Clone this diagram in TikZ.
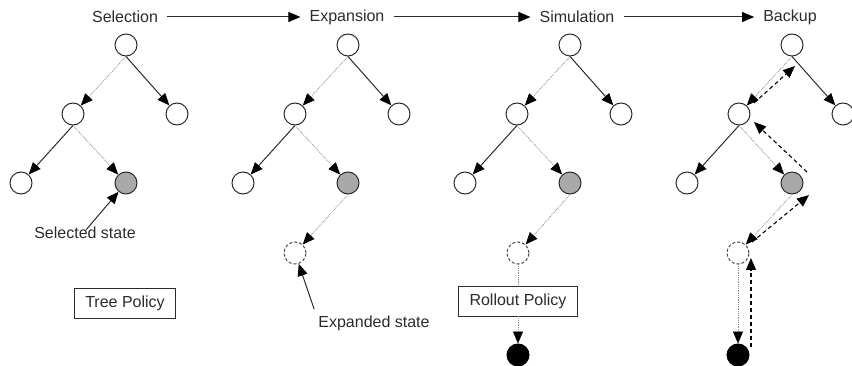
\documentclass[tikz,border=0pt]{standalone}
\usepackage{fontspec}
\setmainfont{Liberation Sans}
\usetikzlibrary{arrows.meta, calc}
\definecolor{mctsink}{HTML}{2B2B2B}
\definecolor{mctsgray}{HTML}{A9A9A9}
\definecolor{mctsdots}{HTML}{8A8A8A}

\begin{document}
\begin{tikzpicture}[x=1pt, y=-1pt,
    state/.style={circle, draw=mctsink, line width=1pt, minimum size=22pt, inner sep=0pt, fill=white},
    picked/.style={state, fill=mctsgray},
    fresh/.style={state, dash pattern=on 3pt off 2pt, draw=mctsink!85},
    terminal/.style={state, fill=black, draw=black},
    title/.style={font=\fontsize{16}{19}\selectfont, text=mctsink, inner xsep=9pt},
    note/.style={font=\fontsize{16}{19}\selectfont, text=mctsink, inner sep=1pt},
    policy/.style={draw=mctsink, line width=0.9pt, minimum height=30pt, inner xsep=11pt,
                   font=\fontsize{16}{19}\selectfont, text=mctsink},
    head/.style={-{Triangle[length=12pt, width=10pt, color=black]}},
    strong/.style={head, line width=1pt, draw=mctsink},
    weak/.style={head, densely dotted, line width=0.8pt, draw=mctsdots},
    plain/.style={densely dotted, line width=0.8pt, draw=mctsdots},
    back/.style={head, dash pattern=on 4pt off 3pt, line width=1.1pt, draw=black},
]
    \useasboundingbox (0,0) rectangle (852,366);

    % phase titles
    \node[title] (sel) at (125,17) {Selection};
    \node[title] (exp) at (347,17) {Expansion};
    \node[title] (sim) at (577,17) {Simulation};
    \node[title] (bak) at (790,17) {Backup};
    \draw[strong] (sel) -- (exp);
    \draw[strong] (exp) -- (sim);
    \draw[strong] (sim) -- (bak);

    % the same tree in every phase
    \foreach \i/\x in {1/126, 2/348, 3/570, 4/792} {
        \node[state] (r\i) at (\x,45) {};
        \node[state] (l\i) at (\x-53,114) {};
        \node[state] (t\i) at (\x+51,114) {};
        \node[state] (a\i) at (\x-105,183) {};
        \node[picked] (g\i) at (\x,183) {};
        \draw[weak] (r\i.south) -- (l\i);
        \draw[strong] (r\i.south) -- (t\i);
        \draw[strong] (l\i.south) -- (a\i);
        \draw[weak] (l\i.south) -- (g\i);
    }

    % Selection
    \node[note] (selnote) at (85,233) {Selected state};
    \draw[strong] ($(selnote.north)+(1,4)$) -- (g1);
    \node[policy] (tree) at (125,303) {Tree Policy};

    % Expansion
    \node[fresh] (d2) at (295,253) {};
    \draw[weak] (g2.south) -- (d2);
    \node[note] (expnote) at (374,323) {Expanded state};
    \draw[strong] ($(expnote.north west)+(-3,-5)$) -- (d2);

    % Simulation
    \node[fresh] (d3) at (518,253) {};
    \node[policy] (roll) at (518,301) {Rollout Policy};
    \node[terminal] (b3) at (518,355) {};
    \draw[weak] (g3.south) -- (d3);
    \draw[plain] (d3.south) -- (roll.north);
    \draw[weak] (roll.south) -- (b3);

    % Backup
    \node[fresh] (d4) at (738,253) {};
    \node[terminal] (b4) at (738,355) {};
    \draw[weak] (g4.south) -- (d4);
    \draw[weak] (d4.south) -- (b4);
    \draw[back] ($(b4)+(13,-8)$) -- ($(d4)+(13,5)$);
    \draw[back] ($(d4)+(14,-11)$) -- ($(g4)+(17,12)$);
    \draw[back] ($(g4)+(15,-11)$) -- ($(l4)+(15,8)$);
    \draw[back] ($(l4)+(15,-11)$) -- ($(r4)+(3,21)$);
\end{tikzpicture}
\end{document}
